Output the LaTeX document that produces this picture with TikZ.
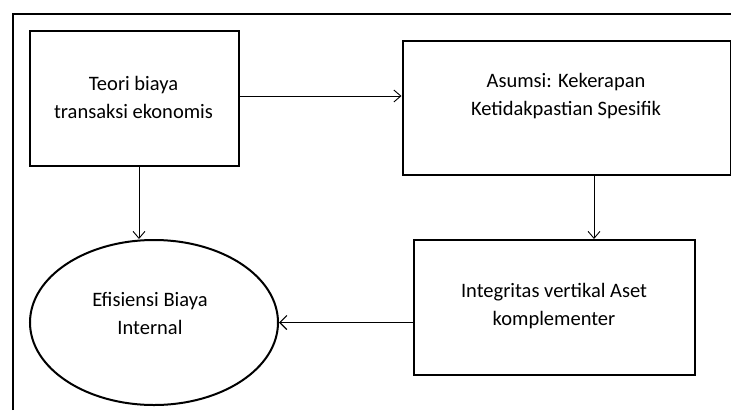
\documentclass[tikz,border=0pt]{standalone}
\usepackage{fontspec}
\setmainfont{Carlito}
\usetikzlibrary{arrows.meta,shapes.geometric}
\begin{document}
\begin{tikzpicture}[x=1pt,y=-1pt,
  every node/.style={font=\fontsize{20.5}{28}\selectfont, align=center, inner sep=0pt},
  boxnode/.style={draw, line width=2pt, minimum width=#1, anchor=north west},
  link/.style={line width=0.9pt, -{Straight Barb[length=7pt,width=12pt,line width=0.9pt]}},
  strong/.style={line width=1.8pt, -{Straight Barb[length=7pt,width=14pt,line width=1.2pt]}}]
  \useasboundingbox (0,0) rectangle (731,410);
  % frame
  \draw[line width=2pt] (13,410) -- (13,14) -- (731,14);
  % boxes
  \node[boxnode=209pt, minimum height=135.5pt] (b1) at (29,29.5) {};
  \node (t1) at (133.5,97) {Teori biaya\\transaksi ekonomis};
  \node[boxnode=328pt, minimum height=134pt] (b2) at (401.5,40) {};
  \node (t2) at (566,96.5) {Asumsi: Kekerapan\\Ketidakpastian Spesifik};
  \node[boxnode=281pt, minimum height=135pt] (b3) at (413,239) {};
  \node (t3) at (554,306) {Integritas vertikal Aset\\komplementer};
  \node[draw, ellipse, line width=2pt, minimum width=248pt, minimum height=165pt] (el) at (154,322.5) {};
  \node (t4) at (150,313.5) {Efisiensi Biaya\\Internal};
  % connectors
  \coordinate (c1) at (238,96);
  \draw[link] (c1) -- (c1 -| b2.west);
  \coordinate (c2) at (139,165);
  \draw[link] (c2) -- (c2 |- el.north);
  \coordinate (c3) at (594,174);
  \draw[link] (c3) -- (c3 |- b3.north);
  \draw[strong] (b3.west |- el.east) -- (el.east);
\end{tikzpicture}
\end{document}
